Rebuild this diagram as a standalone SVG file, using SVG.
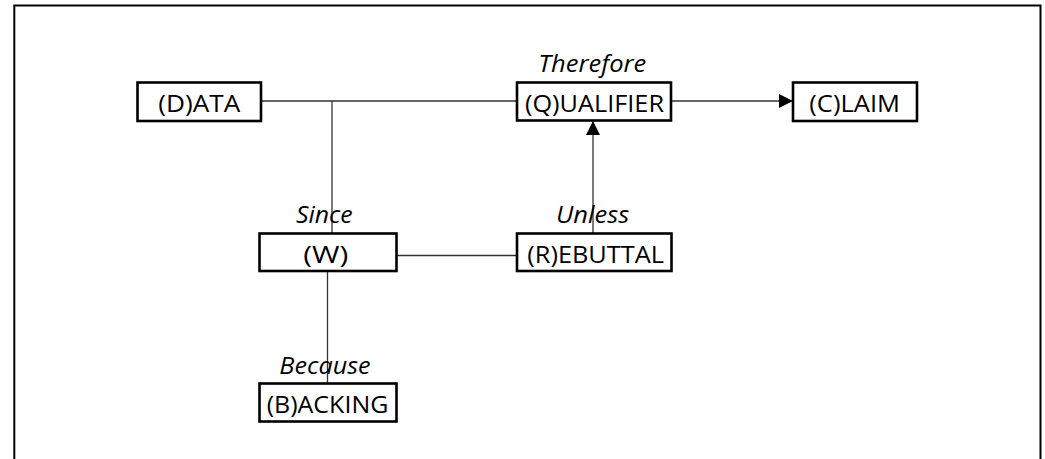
<svg xmlns="http://www.w3.org/2000/svg" width="1045" height="459" viewBox="0 0 1045 459">
<style>
.box{fill:#fff;stroke:#000;stroke-width:2.6}
.lbl{font-family:"Open Sans","DejaVu Sans",sans-serif;font-size:24.5px;fill:#000}
.it{font-family:"Open Sans","DejaVu Sans",sans-serif;font-size:23px;font-style:italic;fill:#000}
.con{stroke:#333;stroke-width:1.3;fill:none}
</style>
<defs>
<marker id="arr" viewBox="0 0 10 10" refX="10" refY="5" markerWidth="14" markerHeight="14" markerUnits="userSpaceOnUse" orient="auto">
<path d="M0,0 L10,5 L0,10 Z" fill="#000"/>
</marker>
</defs>
<rect width="1045" height="459" fill="#fff"/>
<path d="M14.3,470 V5.5 H1040.5 V470" fill="none" stroke="#000" stroke-width="2"/>
<g id="connectors">
<line class="con" x1="261" y1="101" x2="517" y2="101"/>
<line class="con" x1="332" y1="101" x2="332" y2="233"/>
<line class="con" x1="671" y1="101" x2="793" y2="101" marker-end="url(#arr)"/>
<line class="con" x1="593" y1="233" x2="593" y2="121" marker-end="url(#arr)"/>
<line class="con" x1="397" y1="255.5" x2="517" y2="255.5"/>
<line class="con" x1="327.5" y1="271" x2="327.5" y2="383"/>
</g>
<g id="label-therefore"><text class="it" x="538.3" y="71.5" textLength="108" lengthAdjust="spacingAndGlyphs">Therefore</text></g>
<g id="label-since"><text class="it" x="296" y="223" textLength="56.7" lengthAdjust="spacingAndGlyphs">Since</text></g>
<g id="label-unless"><text class="it" x="556" y="223" textLength="73.3" lengthAdjust="spacingAndGlyphs">Unless</text></g>
<g id="label-because"><text class="it" x="279.3" y="374" textLength="91.3" lengthAdjust="spacingAndGlyphs">Because</text></g>
<g id="data"><rect class="box" x="137.5" y="82.5" width="123.5" height="38.5"/><text class="lbl" x="158.3" y="112" textLength="82" lengthAdjust="spacingAndGlyphs">(D)ATA</text></g>
<g id="qualifier"><rect class="box" x="517" y="82.5" width="154" height="38"/><text class="lbl" x="525" y="112" textLength="139" lengthAdjust="spacingAndGlyphs">(Q)UALIFIER</text></g>
<g id="claim"><rect class="box" x="793" y="82.5" width="124" height="38.5"/><text class="lbl" x="809.3" y="112" textLength="90.7" lengthAdjust="spacingAndGlyphs">(C)LAIM</text></g>
<g id="warrant"><rect class="box" x="259.5" y="233.5" width="137" height="37.5"/><text class="lbl" x="303.3" y="263" textLength="45" lengthAdjust="spacingAndGlyphs">(W)</text></g>
<g id="rebuttal"><rect class="box" x="517" y="233.5" width="154.5" height="37.5"/><text class="lbl" x="527.3" y="263" textLength="136.7" lengthAdjust="spacingAndGlyphs">(R)EBUTTAL</text></g>
<g id="backing"><rect class="box" x="259.5" y="383.5" width="137" height="38"/><text class="lbl" x="266.7" y="413" textLength="121.7" lengthAdjust="spacingAndGlyphs">(B)ACKING</text></g>
</svg>
